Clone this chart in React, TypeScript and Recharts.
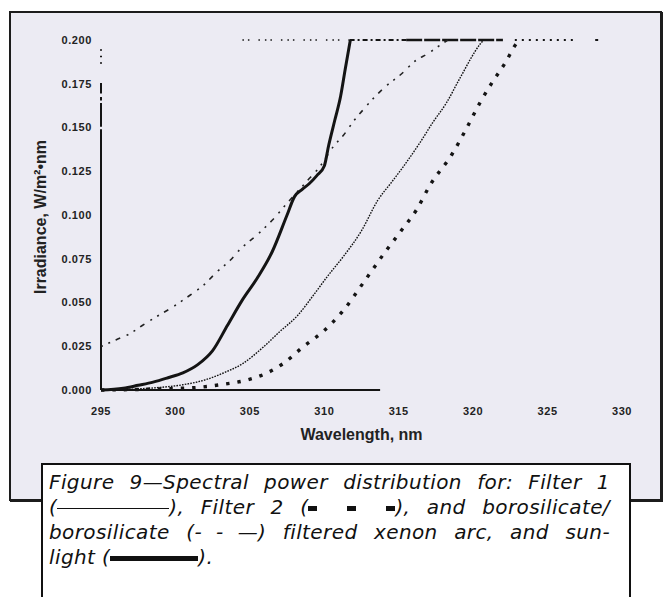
import { Label, Line, LineChart, ReferenceLine, XAxis, YAxis } from "recharts";

// axis ticks
const xTicks = [295, 300, 305, 310, 315, 320, 325, 330];
const yTicks = [0, 0.025, 0.05, 0.075, 0.1, 0.125, 0.15, 0.175, 0.2];

// sunlight (thick solid)
const sunNm = [295, 296.5, 297.5, 298.5, 299.5, 300.5, 301.5, 302.5, 303.5, 304.5, 305.5, 306.5, 307.5, 308, 308.5, 309, 309.5, 310, 310.3, 310.7, 311.1, 311.4, 311.75];
const sunIrr = [0, 0.001, 0.0027, 0.0045, 0.007, 0.0098, 0.0145, 0.0225, 0.037, 0.0515, 0.064, 0.079, 0.1, 0.1105, 0.1145, 0.118, 0.1225, 0.128, 0.14, 0.154, 0.168, 0.183, 0.2];

// filter 1 (thin line)
const f1Nm = [295, 299, 300.5, 302, 303.3, 304.5, 305.9, 307, 308.2, 309.3, 310.2, 311.3, 312.5, 313.6, 314.5, 315.3, 316.4, 317.3, 318.2, 319.1, 320.5, 320.7];
const f1Irr = [0, 0.0015, 0.003, 0.0058, 0.01, 0.015, 0.0245, 0.0333, 0.0425, 0.0545, 0.0648, 0.0765, 0.091, 0.1085, 0.1185, 0.1275, 0.141, 0.153, 0.164, 0.178, 0.198, 0.2];

// filter 2 (square dots)
const f2Nm = [295, 301, 303, 304.8, 306.1, 307.25, 308.6, 309.9, 311.3, 312.6, 314.1, 315.2, 316.2, 317.1, 318.6, 319.5, 320.5, 321.3, 322.2, 322.9, 323.1];
const f2Irr = [0, 0.0012, 0.003, 0.0057, 0.0095, 0.0152, 0.0248, 0.0333, 0.0457, 0.061, 0.079, 0.0914, 0.103, 0.117, 0.135, 0.1486, 0.1648, 0.176, 0.1876, 0.198, 0.2];

// borosilicate/borosilicate (- - —)
const boroNm = [295, 296, 297, 297.8, 298.75, 299.85, 301, 301.9, 302.8, 303.7, 304.3, 305.6, 306.5, 307.5, 308.8, 309.7, 310.6, 311.3, 312, 312.6, 313.3, 314.1, 315.1, 316.2, 317, 317.6, 318.3];
const boroIrr = [0.0248, 0.0286, 0.0325, 0.037, 0.042, 0.0476, 0.0543, 0.06, 0.0676, 0.0743, 0.08, 0.0895, 0.097, 0.1067, 0.119, 0.1276, 0.139, 0.1457, 0.154, 0.16, 0.1667, 0.1733, 0.18, 0.1886, 0.1924, 0.196, 0.2];

// pieces of the 0.200 ceiling where curves run off the top
const topFromNm = [304.5, 311.7, 315.5, 322.8, 328.2];
const topToNm = [311.7, 315.5, 322.0, 326.9, 328.4];
const topLook = [
  { dash: "1.5 4 1.5 9 1.5 5", w: 1.5 },
  { dash: "5 3 2 3", w: 2 },
  { dash: "16 2", w: 2.5 },
  { dash: "2 5", w: 2 },
  { dash: undefined, w: 2 },
];

// broken left axis
const yAxFrom = [0, 0.1505, 0.1655, 0.1695, 0.1865];
const yAxTo = [0.149, 0.164, 0.1675, 0.1755, 0.196];
const yAxDash = [undefined, undefined, undefined, undefined, "1.5 5"];

// zero line runs only part way
const baseFromNm = 295;
const baseToNm = 313.75;

const pts = (xs: number[], ys: number[]) => xs.map((x, i) => ({ x, y: ys[i] }));

const INK = "#141414";
const tickStyle = { fontSize: 11, fontWeight: 700, fill: "#222", fontFamily: "'Liberation Sans', Arial, sans-serif", letterSpacing: 0.6 };
const sq = { display: "inline-block", width: 9, height: 5, background: "#111", verticalAlign: "middle" } as const;
const gap = (w: number) => <span style={{ display: "inline-block", width: w }} />;

export default function App() {
  return (
    <div style={{ position: "relative", width: 666, height: 597, overflow: "hidden", background: "#fff" }}>
      <style>{"body{margin:0;overflow:hidden}"}</style>
      <div
        style={{
          position: "absolute",
          left: 9,
          top: 11,
          width: 653,
          height: 490,
          boxSizing: "border-box",
          background: "#ECEBF3",
          border: "2px solid #1c1c1c",
          boxShadow: "1px 1px 0 #1c1c1c",
        }}
      />
      <div style={{ position: "absolute", left: 0, top: 0 }}>
        <LineChart width={666} height={450} margin={{ top: 40, right: 44, left: 61, bottom: 0 }}>
          <XAxis
            dataKey="x"
            type="number"
            domain={[295, 330]}
            ticks={xTicks}
            axisLine={false}
            tickLine={false}
            tickSize={6}
            tickMargin={11}
            tick={tickStyle}
            height={60}
          >
            <Label
              value="Wavelength, nm"
              position="insideBottom"
              offset={10}
              style={{ fontSize: 16, fontWeight: 700, fill: "#222", fontFamily: "'Liberation Sans', Arial, sans-serif" }}
            />
          </XAxis>
          <YAxis
            type="number"
            domain={[0, 0.2]}
            ticks={yTicks}
            tickFormatter={(v: number) => v.toFixed(3)}
            axisLine={false}
            tickLine={false}
            tickSize={4}
            tickMargin={5}
            tick={tickStyle}
            width={40}
          />
          {yAxFrom.map((v, i) => (
            <ReferenceLine
              key={"ya" + i}
              segment={[{ x: 295, y: v }, { x: 295, y: yAxTo[i] }]}
              stroke={INK}
              strokeWidth={2}
              strokeDasharray={yAxDash[i]}
            />
          ))}
          <ReferenceLine
            segment={[{ x: baseFromNm, y: 0 }, { x: baseToNm, y: 0 }]}
            stroke={INK}
            strokeWidth={2}
          />
          {topFromNm.map((v, i) => (
            <ReferenceLine
              key={"top" + i}
              segment={[{ x: v, y: 0.2 }, { x: topToNm[i], y: 0.2 }]}
              stroke={INK}
              strokeWidth={topLook[i].w}
              strokeDasharray={topLook[i].dash}
            />
          ))}
          <Line
            data={pts(f1Nm, f1Irr)}
            dataKey="y"
            type="monotone"
            stroke="#111"
            strokeWidth={1.4}
            strokeDasharray="1.6 1.2"
            dot={false}
            activeDot={false}
            isAnimationActive={false}
          />
          <Line
            data={pts(f2Nm, f2Irr)}
            dataKey="y"
            type="monotone"
            stroke={INK}
            strokeWidth={3.4}
            strokeDasharray="3.4 8"
            dot={false}
            activeDot={false}
            isAnimationActive={false}
          />
          <Line
            data={pts(boroNm, boroIrr)}
            dataKey="y"
            type="monotone"
            stroke="#222"
            strokeWidth={1.6}
            strokeDasharray="2 6 2 6 5 7"
            dot={false}
            activeDot={false}
            isAnimationActive={false}
          />
          <Line
            data={pts(sunNm, sunIrr)}
            dataKey="y"
            type="monotone"
            stroke={INK}
            strokeWidth={3}
            dot={false}
            activeDot={false}
            isAnimationActive={false}
          />
        </LineChart>
      </div>
      <div
        style={{
          position: "absolute",
          left: 41,
          top: 217,
          transform: "translate(-50%, -50%) rotate(-90deg)",
          whiteSpace: "nowrap",
          fontFamily: "'Liberation Sans', Arial, sans-serif",
          fontWeight: 700,
          fontSize: 16,
          color: "#222",
        }}
      >
        Irradiance, W/m²•nm
      </div>
      <div
        style={{
          position: "absolute",
          left: 41,
          top: 463,
          width: 590,
          height: 200,
          boxSizing: "border-box",
          background: "#fff",
          border: "2px solid #111",
        }}
      />
      <div
        style={{
          position: "absolute",
          left: 49,
          top: 470,
          width: 561,
          fontFamily: "'DejaVu Sans', sans-serif",
          fontStyle: "italic",
          fontSize: 20,
          letterSpacing: 0.4,
          lineHeight: "25px",
          color: "#111",
          whiteSpace: "nowrap",
        }}
      >
        <div style={{ textAlign: "justify", textAlignLast: "justify", whiteSpace: "normal" }}>
          Figure 9—Spectral power distribution for: Filter 1
        </div>
        <div style={{ textAlign: "justify", textAlignLast: "justify", whiteSpace: "normal" }}>
          <span style={{ whiteSpace: "nowrap" }}>
            (<span style={{ display: "inline-block", width: 112, borderTop: "1.5px solid #111", verticalAlign: "middle" }} />),
          </span>{" "}
          Filter 2{" "}
          <span style={{ whiteSpace: "nowrap" }}>
            (<span style={sq} />
            {gap(30)}
            <span style={sq} />
            {gap(30)}
            <span style={sq} />
            ),
          </span>{" "}
          and borosilicate/
        </div>
        <div style={{ textAlign: "justify", textAlignLast: "justify", whiteSpace: "normal" }}>
          borosilicate{" "}
          <span style={{ whiteSpace: "nowrap" }}>
            (-{gap(14)}-{gap(14)}—)
          </span>{" "}
          filtered xenon arc, and sun-
        </div>
        <div>
          light (<span style={{ display: "inline-block", width: 88, height: 5, background: "#111", verticalAlign: "middle" }} />).
        </div>
      </div>
    </div>
  );
}
